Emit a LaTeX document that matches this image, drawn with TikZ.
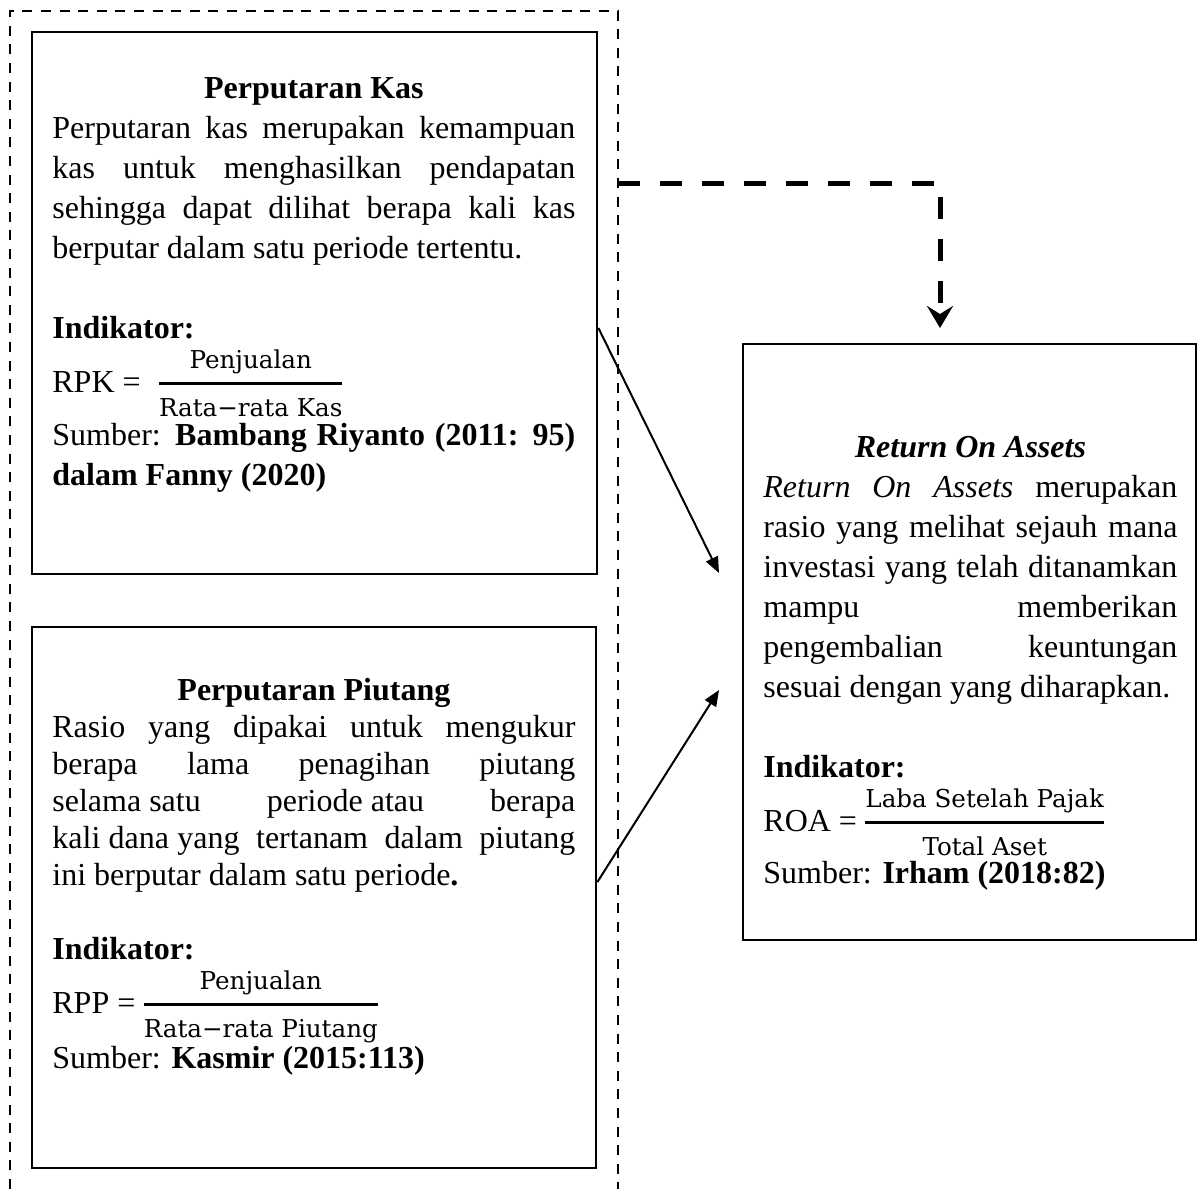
\documentclass[tikz,border=0pt]{standalone}
\usepackage{fontspec}
\setmainfont{Liberation Serif}
\newfontfamily\fracfnt{DejaVu Serif}
\usetikzlibrary{arrows.meta}
\newcommand\parset{\tolerance=10000 \hyphenpenalty=10000 \hbadness=10000\relax}
\newcommand\bodysize{\fontsize{16pt}{20pt}\selectfont\parset}
\newcommand\bodysizeb{\fontsize{16pt}{18.5pt}\selectfont\parset}
\newcommand\fsz{\fracfnt\fontsize{12.3pt}{14pt}\selectfont}
\newcommand\myfrac[2]{\smash{$\displaystyle{\hbox{\fsz #1}\above 1.4pt\hbox{\fsz #2}}$}}
\begin{document}
\begin{tikzpicture}[x=0.5pt,y=-0.5pt,
  box/.style={draw, line width=1.2pt, anchor=north west, inner sep=0pt},
  txt/.style={anchor=north west, inner sep=0pt, align=justify, font=\bodysize},
  txtb/.style={anchor=north west, inner sep=0pt, align=justify, font=\bodysizeb},
  arr/.style={line width=1pt, -{Triangle[length=8pt,width=6.5pt]}},
  outerdash/.style={line width=1.3pt, dash pattern=on 5pt off 4.3pt},
  bigdash/.style={line width=2.5pt, dash pattern=on 11pt off 10pt,
    -{Stealth[length=11pt,width=13pt,inset=4pt]}}
]
\useasboundingbox (0,0) rectangle (1197,1189);
% outer dashed frame (open at bottom)
\coordinate (o1) at (10,1189);
\coordinate (o2) at (10,11);
\coordinate (o3) at (618,11);
\coordinate (o4) at (618,1189);
\draw[outerdash] (o1) -- (o2) -- (o3) -- (o4);

% boxes
\node[box, minimum width=282.5pt, minimum height=271pt] (kas) at (31,31) {};
\node[box, minimum width=282pt, minimum height=270.5pt] (piutang) at (31,626) {};
\node[box, minimum width=226.5pt, minimum height=298pt] (roa) at (742,343) {};

% texts
\node[txt, text width=261.5pt] (kastxt) at (52,70) {%
\strut{\centering\bfseries Perputaran Kas\par}
Perputaran kas merupakan kemampuan\linebreak
kas untuk menghasilkan pendapatan\linebreak
sehingga dapat dilihat berapa kali kas\linebreak
berputar dalam satu periode tertentu.\par
\vspace{20pt}
\textbf{Indikator:}\par
\vspace{7pt}
RPK =\hspace{8pt}\myfrac{Penjualan}{Rata−rata Kas}\par
\vspace{6.5pt}
Sumber: \textbf{Bambang Riyanto (2011: 95)}\linebreak
\textbf{dalam Fanny (2020)}\par};

\node[txtb, text width=261.5pt] (piutangtxt) at (52,674) {%
\strut{\centering\bfseries Perputaran Piutang\par}
Rasio yang dipakai untuk mengukur\linebreak
berapa lama penagihan piutang\linebreak
selama satu\hfill periode atau\hfill berapa\linebreak
kali dana yang\ \ tertanam\ \ dalam\ \ piutang\linebreak
ini berputar dalam satu periode\textbf{.}\par
\vspace{18.5pt}
\textbf{Indikator:}\par
\vspace{8.5pt}
RPP =\hspace{3pt}\myfrac{Penjualan}{Rata−rata Piutang}\par
\vspace{9pt}
Sumber: \textbf{Kasmir (2015:113)}\par};

\node[txt, text width=207pt] (roatxt) at (763,429) {%
\strut{\centering\bfseries\itshape Return On Assets\par}
\textit{Return On Assets} merupakan\linebreak
rasio yang melihat sejauh mana\linebreak
investasi yang telah ditanamkan\linebreak
mampu memberikan\linebreak
pengembalian keuntungan\linebreak
sesuai dengan yang diharapkan.\par
\vspace{20pt}
\textbf{Indikator:}\par
\vspace{7pt}
ROA =\hspace{3pt}\myfrac{Laba Setelah Pajak}{Total Aset}\par
\vspace{6pt}
Sumber: \textbf{Irham (2018:82)}\par};

% connectors
\coordinate (s1) at (0,328);
\coordinate (t1) at (719,573);
\coordinate (s2) at (0,882);
\coordinate (t2) at (719,690);
\draw[arr] (kas.east |- s1) -- (t1);
\draw[arr] (piutang.east |- s2) -- (t2);

\coordinate (d0) at (618,183);
\coordinate (d1) at (940,183);
\coordinate (d2) at (940,328);
\draw[bigdash] (d0) -- (d1) -- (d2);
\end{tikzpicture}
\end{document}
